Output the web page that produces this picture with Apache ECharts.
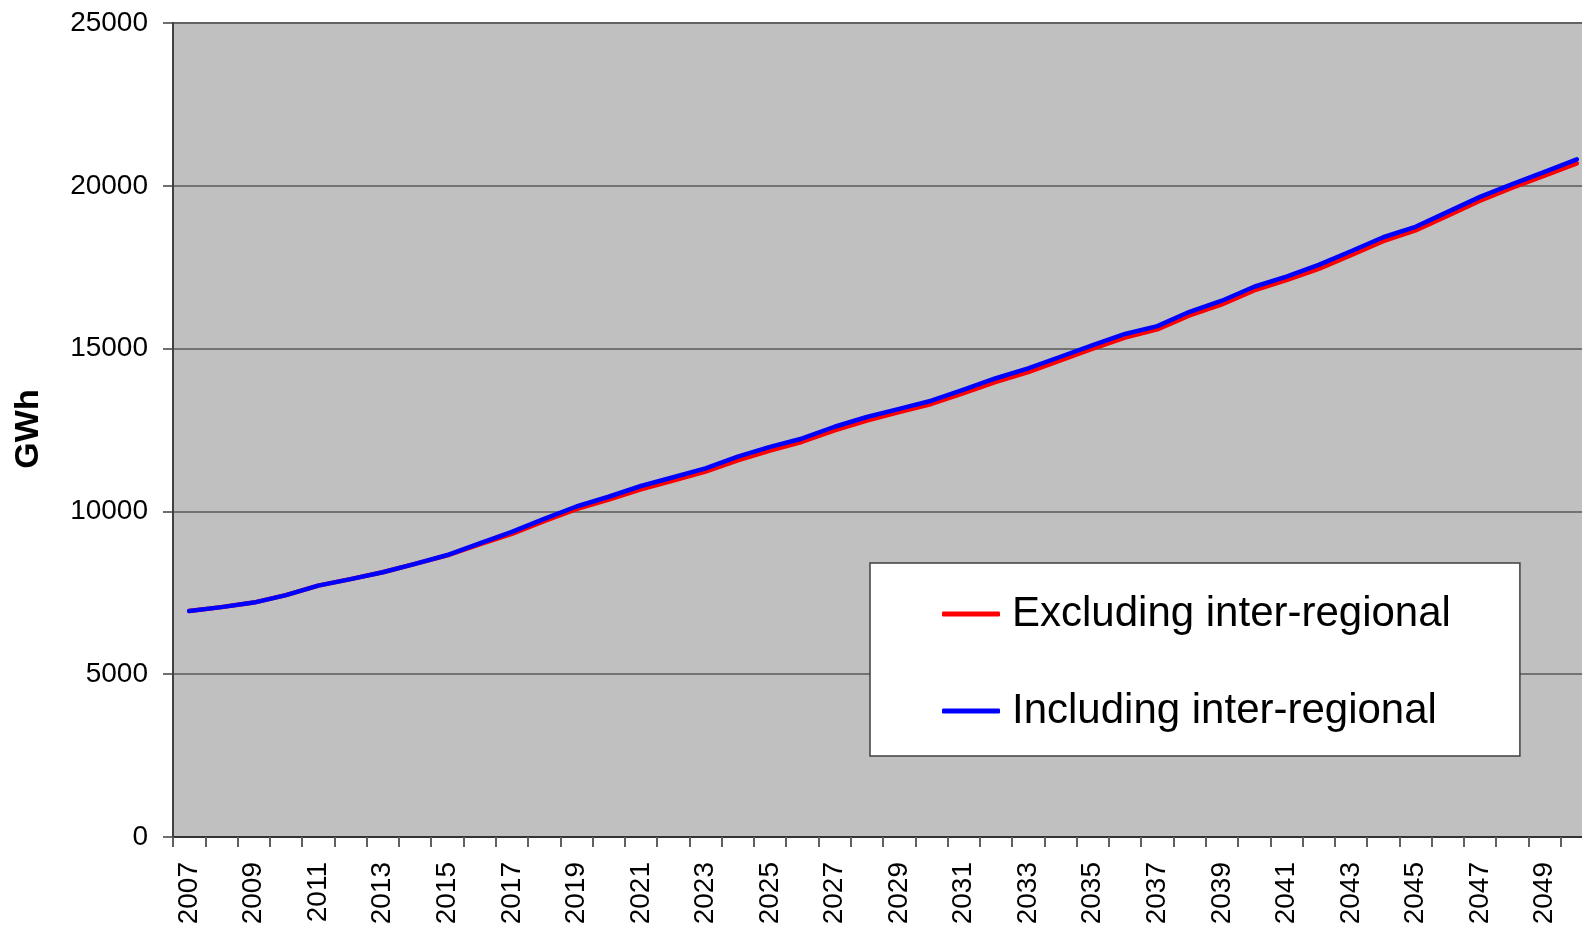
<!DOCTYPE html>
<html>
<head>
<meta charset="utf-8">
<script src="https://cdn.jsdelivr.net/npm/echarts@6/dist/echarts.min.js"></script>
<style>
  html, body { margin: 0; padding: 0; background: #ffffff; }
  #chart { width: 1582px; height: 926px; }
</style>
</head>
<body>
<div id="chart"></div>
<script>
// Years on the category axis
const years = [];
for (let y = 2007; y <= 2050; y++) years.push(String(y));

// Annual energy, GWh
const excludingInterRegional = [
  6940, 7060, 7200, 7430, 7720, 7920, 8130, 8390, 8650, 8990,
  9310, 9700, 10070, 10360, 10680, 10950, 11220, 11570, 11870, 12140,
  12490, 12790, 13050, 13300, 13630, 13980, 14280, 14640, 15000, 15340,
  15590, 16020, 16360, 16790, 17100, 17450, 17870, 18300, 18630, 19080,
  19540, 19940, 20310, 20690
];
const includingInterRegional = [
  6940, 7060, 7200, 7430, 7720, 7920, 8130, 8390, 8660, 9020,
  9370, 9770, 10150, 10450, 10780, 11050, 11320, 11680, 11980, 12240,
  12600, 12900, 13150, 13400, 13740, 14090, 14390, 14750, 15110, 15450,
  15690, 16130, 16470, 16900, 17210, 17570, 17990, 18420, 18740, 19200,
  19660, 20050, 20430, 20810
];

const seriesNames = ['Excluding inter-regional', 'Including inter-regional'];
const yTicks = { min: 0, max: 25000, interval: 5000 };

const FONT = '"Liberation Sans", Arial, sans-serif';
const chart = echarts.init(document.getElementById('chart'), null, { renderer: 'canvas' });

chart.setOption({
  backgroundColor: '#ffffff',
  animation: false,
  textStyle: { fontFamily: FONT },
  grid: {
    // plot area runs a little past the right edge of the canvas
    left: 173, top: 23, width: 1420, height: 814,
    outerBoundsMode: 'none',
    containLabel: false,
    show: true,
    backgroundColor: '#c0c0c0',
    borderColor: '#808080',
    borderWidth: 2
  },
  legend: {
    orient: 'vertical',
    left: 870,
    top: 563,
    padding: [30, 69, 24, 72],
    itemGap: 55,
    itemWidth: 58,
    itemHeight: 5,
    icon: 'roundRect',
    backgroundColor: '#ffffff',
    borderColor: '#404040',
    borderWidth: 1.5,
    borderRadius: 0,
    textStyle: { fontSize: 42, color: '#000000', fontFamily: FONT, padding: [0, 0, 0, 7] },
    data: seriesNames
  },
  graphic: [{
    type: 'text',
    x: 29, y: 429,
    rotation: Math.PI / 2,
    style: {
      text: 'GWh',
      font: 'bold 34px ' + FONT,
      fill: '#000000',
      align: 'center',
      verticalAlign: 'middle'
    }
  }],
  xAxis: {
    type: 'category',
    data: years,
    boundaryGap: true,
    axisLine: { show: true, lineStyle: { color: '#333333', width: 2 } },
    axisTick: { show: true, interval: 0, length: 10, lineStyle: { color: '#606060', width: 2 } },
    axisLabel: { interval: 1, rotate: 90, fontSize: 28, color: '#000000', margin: 25, fontFamily: FONT },
    splitLine: { show: false }
  },
  yAxis: {
    type: 'value',
    min: yTicks.min,
    max: yTicks.max,
    interval: yTicks.interval,
    axisLine: { show: true, lineStyle: { color: '#404040', width: 2 } },
    axisTick: { show: true, length: 10, lineStyle: { color: '#404040', width: 1.5 } },
    axisLabel: {
      fontSize: 28, color: '#000000', margin: 25, fontFamily: FONT,
      formatter: function (v) { return String(v); }
    },
    splitLine: { show: true, lineStyle: { color: '#5a5a5a', width: 1.5 } }
  },
  series: [
    {
      name: seriesNames[0],
      type: 'line',
      data: excludingInterRegional,
      symbol: 'none',
      smooth: false,
      color: '#ff0000',
      lineStyle: { color: '#ff0000', width: 4.5, cap: 'round', join: 'round' }
    },
    {
      name: seriesNames[1],
      type: 'line',
      data: includingInterRegional,
      symbol: 'none',
      smooth: false,
      color: '#0000ff',
      lineStyle: { color: '#0000ff', width: 4.5, cap: 'round', join: 'round' }
    }
  ]
});
</script>
</body>
</html>
